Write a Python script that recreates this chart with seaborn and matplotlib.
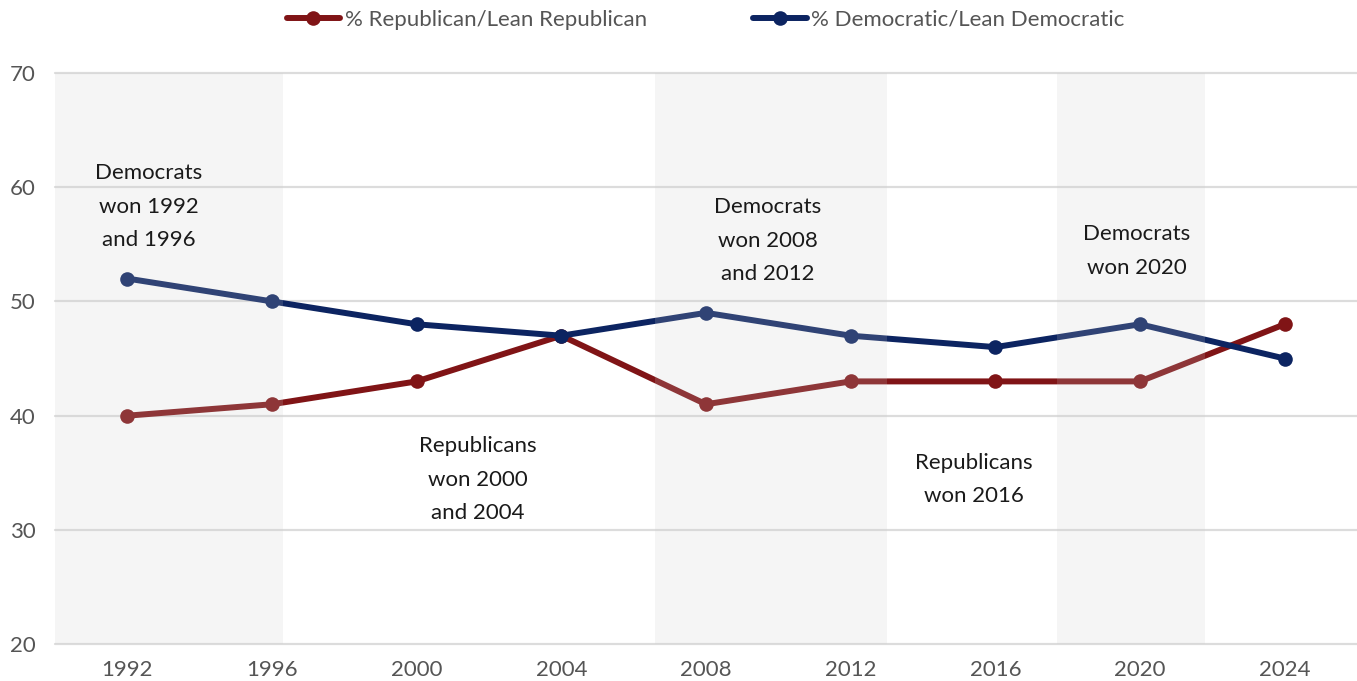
import matplotlib
matplotlib.use("Agg")
import matplotlib.pyplot as plt
import seaborn as sns
import pandas as pd

years = [1992, 1996, 2000, 2004, 2008, 2012, 2016, 2020, 2024]
rep = [40, 41, 43, 47, 41, 43, 43, 43, 48]
dem = [52, 50, 48, 47, 49, 47, 46, 48, 45]
series_names = ["% Republican/Lean Republican", "% Democratic/Lean Democratic"]
y_ticks = [20, 30, 40, 50, 60, 70]
bands = [(1990, 1996.3), (2006.6, 2013.0), (2017.7, 2021.8)]
notes = [
    ("Democrats\nwon 1992\nand 1996", 1992.6, 58.3),
    ("Democrats\nwon 2008\nand 2012", 2009.7, 55.3),
    ("Democrats\nwon 2020", 2019.9, 54.4),
    ("Republicans\nwon 2000\nand 2004", 2001.7, 34.4),
    ("Republicans\nwon 2016", 2015.4, 34.4),
]

sns.set_style("white")
plt.rcParams['font.family'] = ['Lato', 'DejaVu Sans']

df = pd.DataFrame({
    "year": years * 2,
    "value": rep + dem,
    "party": [series_names[0]] * len(years) + [series_names[1]] * len(years),
})

fig = plt.figure(figsize=(13.57, 6.81), dpi=100)
ax = fig.add_axes([0.0405, 0.054, 0.9595, 0.839])

palette = {series_names[0]: "#801416", series_names[1]: "#0c2461"}
sns.lineplot(data=df, x="year", y="value", hue="party", palette=palette,
             marker="o", markersize=10.5, linewidth=4.3, markeredgewidth=0,
             ax=ax, legend=True, zorder=3)

for x0, x1 in bands:
    ax.axvspan(x0, x1, ymin=0, ymax=1, color="#cdcdcd", alpha=0.19, lw=0, zorder=4)

ax.set_xlim(1990, 2026)
ax.set_ylim(20, 70)
ax.set_yticks(y_ticks)
ax.set_xticks(years)
ax.yaxis.grid(True, color="#dcdcdc", linewidth=1.6)
for gl in ax.get_ygridlines():
    gl.set_clip_on(False)
ax.set_axisbelow(True)
for s in ax.spines.values():
    s.set_visible(False)
ax.tick_params(axis="both", length=0, labelsize=16, labelcolor="#555555")
ax.tick_params(axis="y", pad=14)
ax.tick_params(axis="x", pad=11)
ax.set_xlabel("")
ax.set_ylabel("")

for txt, x, y in notes:
    ax.text(x, y, txt, ha="center", va="center", fontsize=16, color="#1a1a1a",
            linespacing=1.85, zorder=5)

handles, labels = ax.get_legend_handles_labels()
ax.get_legend().remove()
fig.legend(handles, labels, loc="upper center", bbox_to_anchor=(0.52, 1.015),
           ncol=2, frameon=False, fontsize=16, labelcolor="#555555",
           handlelength=2.4, handletextpad=0.2, columnspacing=4.8)

fig.savefig("out.png", dpi=100)
